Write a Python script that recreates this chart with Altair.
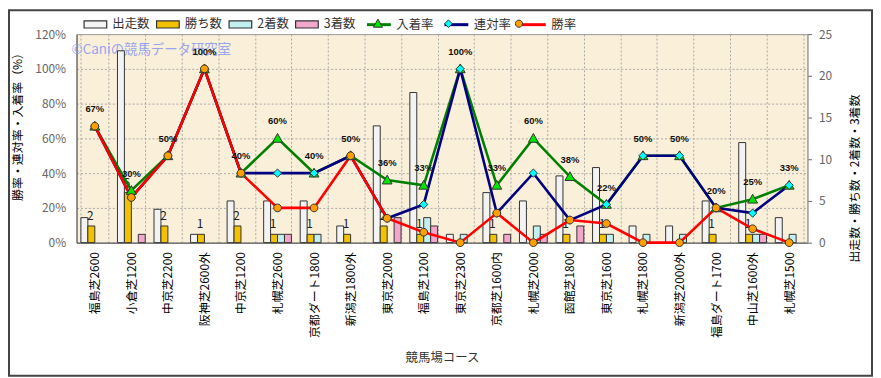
import altair as alt
import pandas as pd

FONT = "Noto Sans CJK JP"

courses = ["福島芝2600", "小倉芝1200", "中京芝2200", "阪神芝2600外", "中京芝1200",
           "札幌芝2600", "京都ダート1800", "新潟芝1800外", "東京芝2000", "福島芝1200",
           "東京芝2300", "京都芝1600内", "札幌芝2000", "函館芝1800", "東京芝1600",
           "札幌芝1800", "新潟芝2000外", "福島ダート1700", "中山芝1600外", "札幌芝1500"]
starts = [3, 23, 4, 1, 5, 5, 5, 2, 14, 18, 1, 6, 5, 8, 9, 2, 2, 5, 12, 3]
wins = [2, 6, 2, 1, 2, 1, 1, 1, 2, 1, 0, 1, 0, 1, 1, 0, 0, 1, 1, 0]
seconds = [0, 0, 0, 0, 0, 1, 1, 0, 0, 3, 1, 0, 2, 0, 1, 1, 1, 0, 1, 1]
thirds = [0, 1, 0, 0, 0, 1, 0, 0, 3, 2, 0, 1, 1, 2, 0, 0, 0, 0, 1, 0]
place_rate = [67, 30, 50, 100, 40, 60, 40, 50, 36, 33, 100, 33, 60, 38, 22, 50, 50, 20, 25, 33]
quinella_rate = [67, 26, 50, 100, 40, 40, 40, 50, 14, 22, 100, 17, 40, 13, 22, 50, 50, 20, 17, 33]
win_rate = [67, 26, 50, 100, 40, 20, 20, 50, 14, 6, 0, 17, 0, 13, 11, 0, 0, 20, 8, 0]

bar_series = ["出走数", "勝ち数", "2着数", "3着数"]
bar_colors = ["#F3F3F3", "#F2C200", "#C2F0F0", "#F2A6CC"]
rate_series = ["入着率", "連対率", "勝率"]
marker_series = [s + " " for s in rate_series]
line_colors = ["#008000", "#000080", "#FF0000"]
marker_fills = ["#00E400", "#00FFFF", "#FFA000"]
marker_shapes = ["M0,-0.38L0.38,0.3L-0.38,0.3Z",
                 "M0,-0.32L0.32,0L0,0.32L-0.32,0Z",
                 "M0.3,0A0.3,0.3 0 1,1 -0.3,0A0.3,0.3 0 1,1 0.3,0Z"]

# ---- tables built from the arrays ----
bar_rows = []
for i, c in enumerate(courses):
    for s, arr in zip(bar_series, [starts, wins, seconds, thirds]):
        if arr[i] > 0:
            bar_rows.append({"course": c, "series": s, "count": arr[i]})
bar_df = pd.DataFrame(bar_rows)

win_df = pd.DataFrame({"course": courses, "series": "勝ち数", "count": wins})
win_df = win_df[win_df["count"] > 0]

rate_rows = []
for s, m, arr in zip(rate_series, marker_series, [place_rate, quinella_rate, win_rate]):
    for c, v in zip(courses, arr):
        rate_rows.append({"course": c, "series": s, "marker": m, "rate": v})
rate_df = pd.DataFrame(rate_rows)

label_df = pd.DataFrame({"course": courses, "rate": place_rate,
                         "label": [f"{v}%" for v in place_rate]})

# legend symbol colour lookup built from the arrays above
fill_expr = "[{}][indexof([{}], datum.value)]".format(
    ",".join(f"'{c}'" for c in marker_fills), ",".join(f"'{m}'" for m in marker_series))

# ---- encodings ----
x_enc = alt.X("course:N", sort=courses,
              scale=alt.Scale(domain=courses, paddingInner=0.24, paddingOuter=0.12),
              axis=alt.Axis(title="競馬場コース", labelAngle=270, labelFontSize=12,
                            labelColor="#000", labelPadding=9, ticks=False,
                            tickBand="extent", grid=True, gridDash=[2, 2],
                            gridColor="#A8A8A8", domainColor="#555",
                            titleFontSize=12.5, titleFontWeight="normal",
                            titleColor="#333", titlePadding=14))
xoff = alt.XOffset("series:N", scale=alt.Scale(domain=bar_series, paddingInner=0, paddingOuter=0))

y_count = alt.Y("count:Q", scale=alt.Scale(domain=[0, 25], nice=False),
                axis=alt.Axis(orient="right", values=[0, 5, 10, 15, 20, 25], grid=False,
                              title="出走数・勝ち数・2着数・3着数", titleAngle=270,
                              titleFontSize=12, titleFontWeight="normal", titleColor="#000",
                              titlePadding=30, titleY=145, labelFontSize=12,
                              labelColor="#666", tickSize=4, tickColor="#666",
                              labelPadding=7, domainColor="#999"))
y_rate = alt.Y("rate:Q", scale=alt.Scale(domain=[0, 120], nice=False),
               axis=alt.Axis(orient="left", values=[0, 20, 40, 60, 80, 100, 120],
                             labelExpr="datum.value + '%'", grid=True, gridDash=[2, 2],
                             gridColor="#A8A8A8", ticks=False, labelPadding=11,
                             labelFontSize=12, labelColor="#666", domainColor="#555",
                             title="勝率・連対率・入着率（%）", titleFontSize=12,
                             titleFontWeight="normal", titleColor="#000", titlePadding=10,
                             titleY=90))

# ---- decorations ----
frame = alt.Chart(pd.DataFrame({"a": [0]})).mark_rect(
    fillOpacity=0, stroke="#444", strokeWidth=2).encode(
    x=alt.value(-68), x2=alt.value(801), y=alt.value(-24), y2=alt.value(344))

watermark = alt.Chart(pd.DataFrame({"t": ["©Caniの競馬データ研究室"]})).mark_text(
    align="left", baseline="middle", font=FONT, fontSize=13.5, color="#8898F0",
    opacity=0.85).encode(x=alt.value(-5), y=alt.value(16), text="t:N")

# ---- bars ----
bars = alt.Chart(bar_df).mark_bar(stroke="#333", strokeWidth=1).encode(
    x=x_enc, xOffset=xoff, y=y_count,
    fill=alt.Fill("series:N", scale=alt.Scale(domain=bar_series, range=bar_colors),
                  legend=alt.Legend(orient="none", legendX=6, legendY=-23,
                                    direction="horizontal", title=None,
                                    symbolType="M-0.95,-0.3H0.95V0.3H-0.95Z",
                                    symbolSize=576, symbolStrokeColor="#333",
                                    symbolStrokeWidth=1.2, labelFontSize=12.5,
                                    labelColor="#333", labelOffset=4,
                                    columnPadding=4, padding=0)))

bar_text = alt.Chart(win_df).mark_text(
    baseline="alphabetic", dy=-6, dx=-1, font=FONT, fontSize=12, color="#222").encode(
    x=x_enc, xOffset=xoff, y=y_count, text="count:Q")

bars_layer = alt.layer(frame, watermark, bars, bar_text)

# ---- rate lines ----
lines = alt.Chart(rate_df).mark_line(strokeWidth=2.6).encode(
    x=x_enc, y=y_rate,
    stroke=alt.Stroke("series:N", scale=alt.Scale(domain=rate_series, range=line_colors),
                      legend=alt.Legend(orient="none", legendX=291, legendY=-23,
                                        direction="horizontal", title=None,
                                        symbolType="stroke", symbolSize=576,
                                        symbolStrokeWidth=3, labelFontSize=12.5,
                                        labelColor="#333", labelOffset=4,
                                        columnPadding=4, padding=0)))

marker_legend = alt.Legend(orient="none", legendX=291, legendY=-23,
                           direction="horizontal", title=None, symbolSize=576,
                           symbolStrokeColor="#333", symbolStrokeWidth=1,
                           symbolFillColor=alt.ExprRef(expr=fill_expr),
                           symbolOpacity=1,
                           labelExpr="trim(datum.label)",
                           labelFontSize=12.5, labelOpacity=0, labelOffset=4,
                           columnPadding=4, padding=0)

points = alt.Chart(rate_df).mark_point(filled=True, size=676, stroke="#333",
                                       strokeWidth=1, opacity=1).encode(
    x=x_enc, y=y_rate,
    fill=alt.Fill("marker:N", scale=alt.Scale(domain=marker_series, range=marker_fills),
                  legend=None),
    shape=alt.Shape("marker:N", scale=alt.Scale(domain=marker_series, range=marker_shapes),
                    legend=marker_legend))

pct_text = alt.Chart(label_df).mark_text(
    baseline="middle", dy=-17, font="Liberation Sans", fontSize=9.5,
    fontWeight="bold", color="#111").encode(x=x_enc, y=y_rate, text="label:N")

rates_layer = alt.layer(lines, points, pct_text)

chart = alt.layer(bars_layer, rates_layer).resolve_scale(
    y="independent", fill="independent").properties(
    width=736, height=210, padding=0).configure_view(
    fill="#FAF0DA", stroke="#999").configure_axis(
    labelFont=FONT, titleFont=FONT).configure_legend(labelFont=FONT)

chart.save("out.html", embed_options={"renderer": "svg", "actions": False})
